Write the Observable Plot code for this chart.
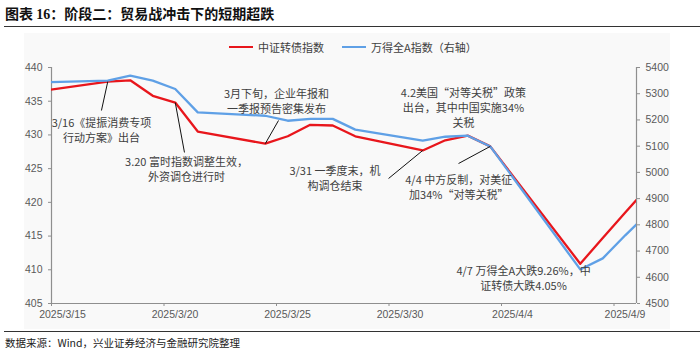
<!DOCTYPE html>
<html>
<head>
<meta charset="utf-8">
<script src="https://cdn.jsdelivr.net/npm/d3@7"></script>
<script src="https://cdn.jsdelivr.net/npm/@observablehq/plot@0.6"></script>
<style>
  html, body { margin: 0; padding: 0; background: #fff; }
  #wrap { position: relative; width: 700px; height: 355px; overflow: hidden; font-family: "Noto Sans CJK SC", sans-serif; }
  #title { position: absolute; left: 5px; top: 3px; font-size: 14px; font-weight: bold; color: #111; white-space: nowrap; }
  #title .num { font-family: "Liberation Serif", serif; }
  #rule1 { position: absolute; left: 4px; right: 0; top: 26px; height: 0; border-top: 1.5px solid #333; }
  #panel { position: absolute; left: 24px; top: 33px; width: 646px; height: 296px; background: #f9f9f9; }
  #rule2 { position: absolute; left: 4px; right: 0; top: 331px; height: 0; border-top: 1px solid #333; }
  #source { position: absolute; left: 5px; top: 335px; font-size: 10.5px; color: #222; white-space: nowrap; }
  #chart { position: absolute; left: 0; top: 30px; }
  #legend { position: absolute; top: 39px; left: 229px; font-size: 11px; color: #404040; display: flex; align-items: center; white-space: nowrap; }
  #legend .sw { display: inline-block; width: 24px; height: 0; border-top: 2.2px solid; margin-right: 5px; }
  #legend .item { display: flex; align-items: center; margin-right: 18px; }
</style>
</head>
<body>
<div id="wrap">
  <div id="title">图表 <span class="num">16</span>：阶段二：贸易战冲击下的短期超跌</div>
  <div id="rule1"></div>
  <div id="panel"></div>
  <div id="chart"></div>
  <div id="legend"></div>
  <div id="rule2"></div>
  <div id="source">数据来源：Wind，兴业证券经济与金融研究院整理</div>
</div>
<script>
// ---- data ----
const dates = ["2025-03-14","2025-03-17","2025-03-18","2025-03-19","2025-03-20","2025-03-21",
               "2025-03-24","2025-03-25","2025-03-26","2025-03-27","2025-03-28",
               "2025-03-31","2025-04-01","2025-04-02","2025-04-03",
               "2025-04-07","2025-04-08","2025-04-09","2025-04-10"];
const cbIndex = [436.5, 437.9, 438.1, 435.8, 434.8, 430.5,
                 428.7, 429.8, 431.5, 431.4, 429.8,
                 427.7, 429.2, 429.9, 428.3,
                 410.9, 414.7, 418.5, 422.2];
const windA = [5343, 5350, 5369, 5350, 5318, 5229,
               5216, 5197, 5204, 5204, 5163,
               5121, 5136, 5140, 5099,
               4630, 4672, 4760, 4843];
const seriesNames = ["中证转债指数", "万得全A指数（右轴）"];
const seriesColors = ["#e8161c", "#5fa0e6"];
const leftTicks = [405, 410, 415, 420, 425, 430, 435, 440];
const rightTicks = [4500, 4600, 4700, 4800, 4900, 5000, 5100, 5200, 5300, 5400];
const xTickDates = ["2025-03-15","2025-03-20","2025-03-25","2025-03-30","2025-04-04","2025-04-09"];
const xStart = "2025-03-15", xEnd = "2025-04-10";

// annotations: anchor in (day offset from 3/15, left-axis value)
const annoTexts = [
  "3/16《提振消费专项\n行动方案》出台",
  "3.20 富时指数调整生效，\n外资调仓进行时",
  "3月下旬，企业年报和\n一季报预告密集发布",
  "3/31 一季度末，机\n构调仓结束",
  "4.2美国“对等关税”政策\n出台，其中中国实施34%\n关税",
  "4/4 中方反制，对美征\n加34%“对等关税”",
  "4/7 万得全A大跌9.26%，中\n证转债大跌4.05%"
];
const annoDay = [2.22, 6.0, 10.0, 12.6, 18.31, 18.1, 20.98];
const annoVal = [430.73, 424.95, 435.03, 423.61, 434.07, 422.28, 408.86];
// leader lines: from text end (day, value) to data point index
const leaderFromDay = [2.22, 5.91, 10.09, 14.98, 18.09];
const leaderFromVal = [433.62, 427.4, 432.14, 423.54, 425.76];
const leaderToIdx = [1, 4, 6, 11, 14];

// ---- build ----
const DAY = 864e5;
const t0 = Date.UTC(2025, 2, 15);
const parse = s => new Date(s + "T00:00:00Z");
const noon = s => new Date(parse(s).getTime() + DAY / 2);
const atDay = k => new Date(t0 + k * DAY);
const toLeft = r => 405 + (r - 4500) * 35 / 900;
const toRight = v => String(Math.round(4500 + (v - 405) * 900 / 35));

const rows = [];
dates.forEach((d, i) => rows.push({date: noon(d), v: cbIndex[i], s: seriesNames[0]}));
dates.forEach((d, i) => rows.push({date: noon(d), v: toLeft(windA[i]), s: seriesNames[1]}));

const annos = annoTexts.map((t, i) => ({x: atDay(annoDay[i]), y: annoVal[i], t}));
const leaders = leaderFromDay.map((k, i) => ({
  x1: atDay(k), y1: leaderFromVal[i],
  x2: noon(dates[leaderToIdx[i]]), y2: cbIndex[leaderToIdx[i]]
}));

const fmtDate = d => `${d.getUTCFullYear()}/${d.getUTCMonth() + 1}/${d.getUTCDate()}`;
const axisColor = "#8f8f8f";

const chart = Plot.plot({
  width: 700,
  height: 300,
  marginLeft: 51,
  marginRight: 64,
  marginTop: 37,
  marginBottom: 27,
  style: {background: "transparent", fontFamily: "'Liberation Sans', Arial, sans-serif", fontSize: "10.5px", color: "#595959", overflow: "visible"},
  x: {type: "utc", domain: [parse(xStart), parse(xEnd)]},
  y: {domain: [405, 440]},
  color: {domain: seriesNames, range: seriesColors},
  marks: [
    Plot.axisY(leftTicks, {anchor: "left", tickSize: 3, tickPadding: 6, label: null, stroke: axisColor}),
    Plot.axisY(rightTicks.map(toLeft), {anchor: "right", tickSize: 3, tickPadding: 6, tickFormat: toRight, label: null, stroke: axisColor}),
    Plot.axisX(xTickDates.map(parse), {anchor: "bottom", tickSize: 3, tickFormat: () => "", label: null, stroke: axisColor}),
    Plot.axisX(xTickDates.map(parse), {anchor: "bottom", tickSize: 0, tickPadding: 7, dx: 11, tickFormat: fmtDate, label: null}),
    Plot.ruleX([parse(xStart), parse(xEnd)], {stroke: axisColor, strokeWidth: 1.2}),
    Plot.ruleY([405], {stroke: axisColor, strokeWidth: 1.2}),
    Plot.line(rows, {x: "date", y: "v", stroke: "s", z: "s", strokeWidth: 2.3, clip: true}),
    Plot.link(leaders, {x1: "x1", y1: "y1", x2: "x2", y2: "y2", stroke: "#111", strokeWidth: 1}),
    Plot.text(annos, {x: "x", y: "y", text: "t", fontSize: 11, fill: "#404040", lineHeight: 1.36,
                      lineAnchor: "middle", textAnchor: "middle", fontFamily: "'Noto Sans CJK SC', sans-serif"})
  ]
});
document.getElementById("chart").appendChild(chart);

const legend = document.getElementById("legend");
seriesNames.forEach((n, i) => {
  const it = document.createElement("div");
  it.className = "item";
  it.innerHTML = `<span class="sw" style="border-color:${seriesColors[i]}"></span><span>${n}</span>`;
  legend.appendChild(it);
});
</script>
</body>
</html>
